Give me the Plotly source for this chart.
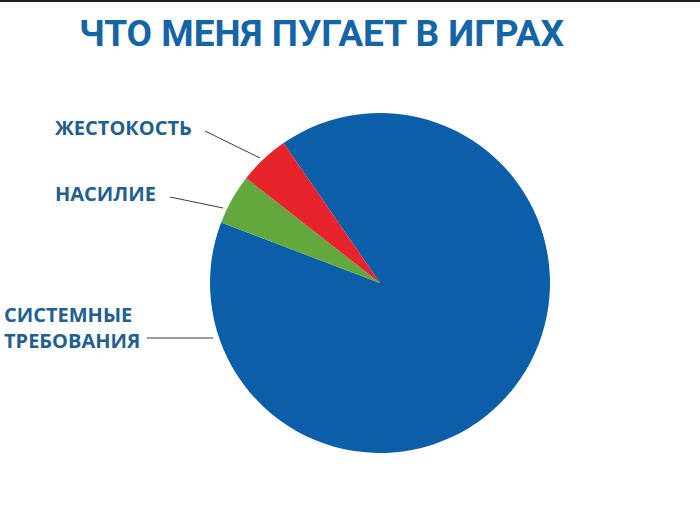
import plotly.graph_objects as go

W, H = 700, 515

# Data
labels = ["СИСТЕМНЫЕ ТРЕБОВАНИЯ", "НАСИЛИЕ", "ЖЕСТОКОСТЬ"]
values = [90.4, 4.8, 4.8]
colors = ["#0b5ea8", "#62a83c", "#e8232b"]

TITLE = "ЧТО МЕНЯ ПУГАЕТ В ИГРАХ"
LABEL_COLOR = "#225f8f"


def px(x, y):
    """pixel (from top-left) -> paper coords"""
    return x / W, 1 - y / H


# pie centre (380, 283), radius 170
cx, cy, r = 380, 283, 170
x0, y1 = px(cx - r, cy - r)
x1, y0 = px(cx + r, cy + r)

fig = go.Figure(
    go.Pie(
        labels=labels,
        values=values,
        marker=dict(colors=colors, line=dict(width=0)),
        sort=False,
        direction="clockwise",
        rotation=-34.6,
        textinfo="none",
        hoverinfo="label+percent",
        domain=dict(x=[x0, x1], y=[y0, y1]),
        showlegend=False,
    )
)

# leader lines
leaders = [
    ((205, 131), (260, 158)),
    ((170, 197), (223, 208)),
    ((147, 338), (213, 338)),
]
shapes = []
for (ax_, ay_), (bx_, by_) in leaders:
    a = px(ax_, ay_)
    b = px(bx_, by_)
    shapes.append(dict(type="line", xref="paper", yref="paper",
                       x0=a[0], y0=a[1], x1=b[0], y1=b[1],
                       line=dict(color="#3a3a3a", width=1)))
# dark strip along the top edge of the screenshot
shapes.append(dict(type="rect", xref="paper", yref="paper",
                   x0=0, x1=1, y0=1 - 2 / H, y1=1,
                   fillcolor="#1e1e1e", line=dict(width=0)))

label_font = dict(family="Open Sans", size=20, color=LABEL_COLOR)
annotations = []
for text, (lx, ly) in [
    ("<b>ЖЕСТОКОСТЬ</b>", (53, 127)),
    ("<b>НАСИЛИЕ</b>", (53, 193)),
    ("<b>СИСТЕМНЫЕ<br>ТРЕБОВАНИЯ</b>", (2, 327)),
]:
    p = px(lx, ly)
    annotations.append(dict(text=text, x=p[0], y=p[1], xref="paper", yref="paper",
                            xanchor="left", yanchor="middle", align="left",
                            showarrow=False, font=label_font))

t = px(321, 33)
annotations.append(dict(text="<b>" + TITLE + "</b>", x=t[0], y=t[1],
                        xref="paper", yref="paper", xanchor="center", yanchor="middle",
                        showarrow=False,
                        font=dict(family="Roboto", size=37, color="#1565a6")))

fig.update_layout(
    width=W,
    height=H,
    margin=dict(l=0, r=0, t=0, b=0),
    paper_bgcolor="white",
    plot_bgcolor="white",
    shapes=shapes,
    annotations=annotations,
)

fig.write_html("out.html", config={"displayModeBar": False},
               post_script="document.body.style.margin='0';")
